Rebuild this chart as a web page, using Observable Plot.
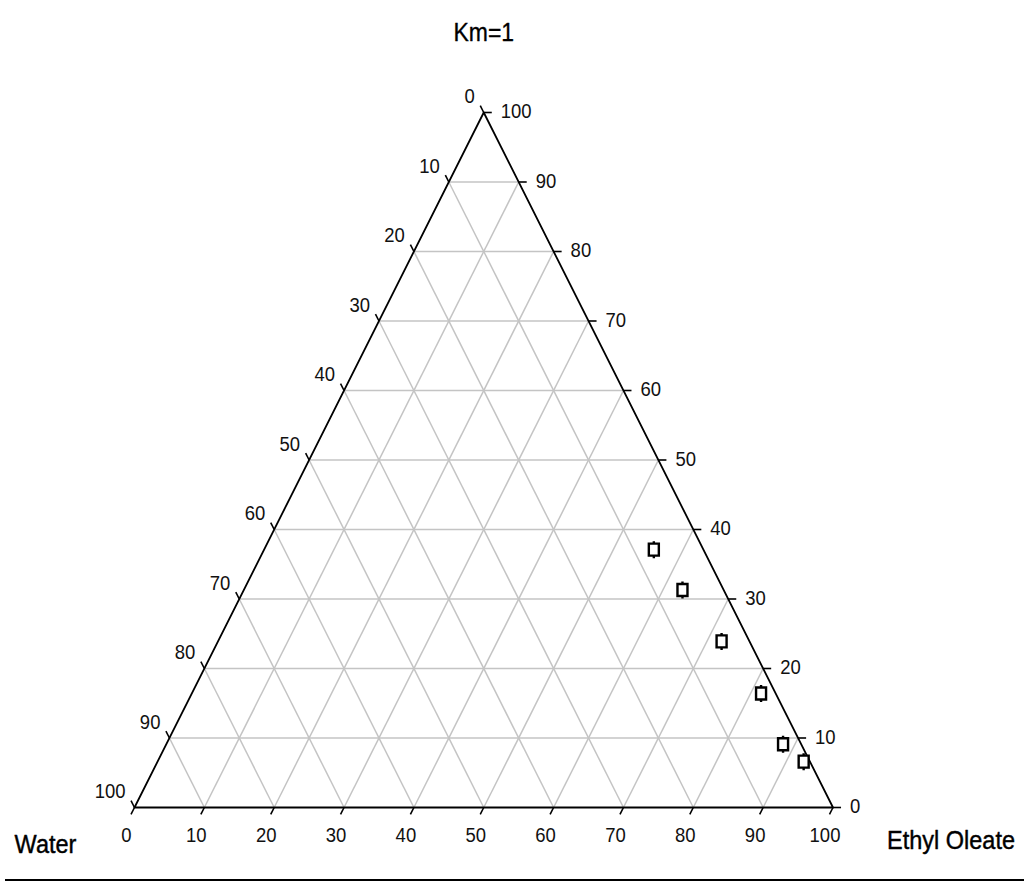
<!DOCTYPE html>
<html>
<head>
<meta charset="utf-8">
<script src="https://cdn.jsdelivr.net/npm/d3@7"></script>
<script src="https://cdn.jsdelivr.net/npm/@observablehq/plot@0.6"></script>
<style>
  html, body { margin: 0; padding: 0; background: #fff; }
  #wrap { position: relative; width: 1024px; height: 882px; overflow: hidden; }
  #baseline { position: absolute; left: 5px; right: 0; top: 879px; height: 2px; background: #000; }
  svg text { font-family: "Liberation Sans", Arial, sans-serif; }
</style>
</head>
<body>
<div id="wrap"><div id="baseline"></div></div>
<script>
// Measured compositions (percent): Ethyl Oleate (bottom axis), apex component (right axis), Water (left axis)
const ethylOleate = [55.8, 62.8, 72.1, 81.5, 88.3, 92.5];
const apexPct     = [37.1, 31.3, 23.9, 16.4, 9.1, 6.6];
const water       = [7.1, 5.9, 4.0, 2.1, 2.6, 0.9];

const title = "Km=1";
const leftCorner = "Water";
const rightCorner = "Ethyl Oleate";

// Tick values shared by all three axes, and the interior grid levels
const tickValues = [0, 10, 20, 30, 40, 50, 60, 70, 80, 90, 100];
const gridLevels = [10, 20, 30, 40, 50, 60, 70, 80, 90];

// Ternary -> planar: x = E + A/2, y = A (water is the remainder)
const toXY = (e, a) => ({x: e + a / 2, y: a});

const points = ethylOleate.map((e, i) => ({...toXY(e, apexPct[i]), water: water[i]}));

// Triangle outline from the three pure-component corners
const corners = [toXY(0, 0), toXY(100, 0), toXY(0, 100), toXY(0, 0)];

// Grid lines: constant apex %, constant ethyl oleate %, constant water %
const grid = [
  ...gridLevels.map(k => ({a: toXY(0, k), b: toXY(100 - k, k)})),
  ...gridLevels.map(k => ({a: toXY(k, 0), b: toXY(k, 100 - k)})),
  ...gridLevels.map(k => ({a: toXY(100 - k, 0), b: toXY(0, 100 - k)}))
];

// Tick marks extend the grid directions just past each edge
const bottomTicks = tickValues.map(k => {
  const p = toXY(k, 0);
  return {x1: p.x, y1: p.y, x2: p.x - 0.5, y2: p.y - 1, label: String(k)};
});
const rightTicks = tickValues.map(k => {
  const p = toXY(100 - k, k);
  return {x1: p.x, y1: p.y, x2: p.x + 1.15, y2: p.y, label: String(k)};
});
const leftTicks = tickValues.map(k => {
  const p = toXY(0, 100 - k);
  return {x1: p.x, y1: p.y, x2: p.x - 0.5, y2: p.y + 1, label: String(k)};
});

// Open square with short whiskers above and below
const marker = {
  draw(ctx) {
    ctx.moveTo(-5, -6); ctx.lineTo(5, -6); ctx.lineTo(5, 6); ctx.lineTo(-5, 6); ctx.closePath();
    ctx.moveTo(0, -6); ctx.lineTo(0, -8.5);
    ctx.moveTo(0, 6); ctx.lineTo(0, 8.5);
  }
};

const chart = Plot.plot({
  width: 1024,
  height: 882,
  marginLeft: 134,
  marginRight: 191.5,
  marginTop: 112,
  marginBottom: 75,
  x: {domain: [0, 100], axis: null},
  y: {domain: [0, 100], axis: null},
  style: {background: "white", overflow: "visible"},
  marks: [
    Plot.link(grid, {x1: d => d.a.x, y1: d => d.a.y, x2: d => d.b.x, y2: d => d.b.y,
      stroke: "#c4c4c4", strokeWidth: 1.5}),
    Plot.line(corners, {x: "x", y: "y", stroke: "black", strokeWidth: 1.8}),
    Plot.link([...bottomTicks, ...rightTicks, ...leftTicks],
      {x1: "x1", y1: "y1", x2: "x2", y2: "y2", stroke: "black", strokeWidth: 1.6}),
    Plot.text(bottomTicks, {x: "x1", y: "y1", text: "label", dx: -8, dy: 28,
      fontSize: 18.5, fill: "#111"}),
    Plot.text(rightTicks, {x: "x1", y: "y1", text: "label", dx: 17, dy: -1,
      textAnchor: "start", fontSize: 18.5, fill: "#111"}),
    Plot.text(leftTicks, {x: "x1", y: "y1", text: "label", dx: -9, dy: -16,
      textAnchor: "end", fontSize: 18.5, fill: "#111"}),
    Plot.dot(points, {x: "x", y: "y", symbol: marker, stroke: "black", strokeWidth: 2.4, fill: "white"}),
    Plot.text([title], {frameAnchor: "top", dy: -90, fontSize: 23, fill: "#000",
      stroke: "#000", strokeWidth: 0.3}),
    Plot.text([leftCorner], {x: () => toXY(0, 0).x, y: () => toXY(0, 0).y, dx: -89, dy: 37,
      fontSize: 23.5, fill: "#000", stroke: "#000", strokeWidth: 0.4}),
    Plot.text([rightCorner], {x: () => toXY(100, 0).x, y: () => toXY(100, 0).y, dx: 118, dy: 33,
      fontSize: 23.5, fill: "#000", stroke: "#000", strokeWidth: 0.4})
  ]
});

// Slightly taller glyphs: add a vertical stretch after each label's own placement
d3.select(chart).selectAll("text").each(function () {
  const t = this.getAttribute("transform");
  if (t) this.setAttribute("transform", t + " scale(1,1.12)");
});

document.getElementById("wrap").prepend(chart);
</script>
</body>
</html>
